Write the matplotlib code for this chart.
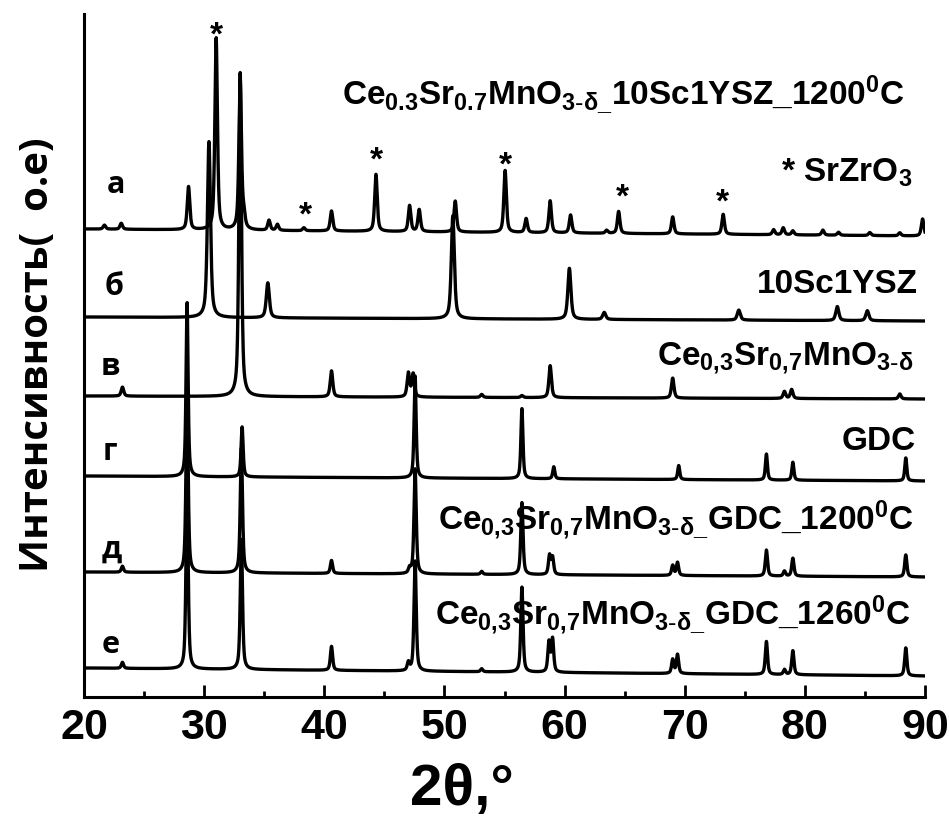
import numpy as np
import matplotlib
matplotlib.use("Agg")
import matplotlib.pyplot as plt
from matplotlib import font_manager

plt.rcParams['mathtext.default'] = 'regular'

# narrow bold font if there is one, otherwise plain sans at a smaller size
installed = {f.name for f in font_manager.fontManager.ttflist}
if 'Liberation Sans Narrow' in installed:
    NARROW, LABEL_FS, TICK_FS = ['Liberation Sans Narrow', 'DejaVu Sans'], 29, 36
else:
    NARROW, LABEL_FS, TICK_FS = ['Liberation Sans', 'DejaVu Sans'], 24, 31

# ---------------- data (peak positions, 2theta / peak heights, a.u.) ----------------
# a: Ce0.3Sr0.7MnO3-d + 10Sc1YSZ, 1200C
pos_a = [21.7, 23.1, 28.7, 31.0, 33.0, 33.3, 35.4, 36.1, 38.3, 40.6, 44.3, 47.1, 47.9,
         50.9, 55.05, 56.8, 58.8, 60.5, 63.5, 64.5, 69.0, 73.2, 77.4, 78.2, 79.0,
         81.5, 82.8, 85.4, 87.9, 89.8]
amp_a = [4, 6, 43, 192, 150, 12, 10, 6, 3, 20, 57, 26, 22,
         31, 62, 14, 32, 18, 3, 22, 17, 20, 5, 7, 4,
         5, 3, 3, 3, 17]
base_a = [468, 461]

# б: 10Sc1YSZ
pos_b = [30.4, 35.3, 50.7, 60.4, 63.3, 74.5, 82.7, 85.2]
amp_b = [176, 35, 103, 51, 7, 10, 14, 10]
base_b = [380, 376]

# в: Ce0.3Sr0.7MnO3-d
pos_v = [23.2, 33.0, 40.6, 47.0, 47.4, 53.1, 56.45, 58.8, 69.0, 78.3, 78.9, 87.9]
amp_v = [9, 324, 26, 24, 23, 3, 2, 32, 20, 7, 9, 5]
base_v = [301, 298]

# г: GDC
pos_g = [28.58, 33.16, 47.56, 56.45, 59.1, 69.5, 76.8, 79.0, 88.4]
amp_g = [174, 50, 102, 70, 12, 14, 26, 18, 23]
base_g = [221, 216]

# д: CSM-GDC, 1200C
pos_d = [23.2, 28.58, 33.1, 40.6, 47.1, 47.56, 53.1, 56.45, 58.75, 59.0, 69.0, 69.4,
         76.8, 78.3, 79.0, 88.4]
amp_d = [6, 175, 125, 13, 5, 105, 3, 72, 19, 17, 10, 13, 26, 5, 18, 22]
base_d = [125, 120]

# е: CSM-GDC, 1260C
pos_e = [23.2, 28.58, 33.1, 40.6, 47.0, 47.56, 53.1, 56.45, 58.7, 59.0, 69.0, 69.4,
         76.8, 78.3, 79.0, 88.4]
amp_e = [6, 180, 130, 24, 8, 110, 3, 85, 30, 33, 14, 19, 33, 5, 24, 28]
base_e = [29, 21]

fwhm = {'a': 0.25, 'b': 0.3, 'v': 0.25, 'g': 0.2, 'd': 0.22, 'e': 0.22}

star_x = [30.99, 38.4, 44.31, 55.05, 64.8, 73.12]
star_y = [653, 473, 528, 523, 491, 486]

letters = ['а', 'б', 'в', 'г', 'д', 'е']
letter_x = [22.66, 22.5, 22.2, 22.2, 22.33, 22.2]
letter_y = [505, 403, 323, 238, 140, 45]

labels = [r'Ce$_{0.3}$Sr$_{0.7}$MnO$_{3\text{-}δ\_}$10Sc1YSZ_1200$^{0}$C',
          r'* SrZrO$_{3}$',
          '10Sc1YSZ',
          r'Ce$_{0{,}3}$Sr$_{0{,}7}$MnO$_{3\text{-}δ}$',
          'GDC',
          r'Ce$_{0{,}3}$Sr$_{0{,}7}$MnO$_{3\text{-}δ\_}$GDC_1200$^{0}$C',
          r'Ce$_{0{,}3}$Sr$_{0{,}7}$MnO$_{3\text{-}δ\_}$GDC_1260$^{0}$C']
label_x = [88.36, 88.94, 89.44, 89.03, 89.19, 89.03, 88.78]
label_y = [593, 516, 405, 333, 248, 168, 73]

# ---------------- build patterns ----------------
x = np.linspace(20, 90, 14001)


def pattern(pos, amp, w, base):
    y = np.interp(x, [20, 90], base)
    for p, h in zip(pos, amp):
        u = (x - p) / (w / 2)
        y = y + h * (0.6 / (1 + u ** 2) + 0.4 * np.exp(-np.log(2) * u ** 2))
    return y


traces = [pattern(pos_a, amp_a, fwhm['a'], base_a),
          pattern(pos_b, amp_b, fwhm['b'], base_b),
          pattern(pos_v, amp_v, fwhm['v'], base_v),
          pattern(pos_g, amp_g, fwhm['g'], base_g),
          pattern(pos_d, amp_d, fwhm['d'], base_d),
          pattern(pos_e, amp_e, fwhm['e'], base_e)]

# ---------------- plot ----------------
fig = plt.figure(figsize=(9.49, 8.28), dpi=100)
ax = fig.add_axes([84 / 949, 1 - 698 / 828, 841 / 949, 683 / 828])

for y in traces:
    ax.plot(x, y, color='black', lw=2.4, solid_joinstyle='round')

ax.set_xlim(20, 90)
ax.set_ylim(0, 683)
ax.spines['top'].set_visible(False)
ax.spines['right'].set_visible(False)
ax.spines['left'].set_linewidth(2.2)
ax.spines['bottom'].set_linewidth(2.2)
ax.set_yticks([])
ax.set_xticks(range(20, 91, 10))
ax.set_xticks(range(25, 90, 10), minor=True)
ax.tick_params(axis='x', which='major', direction='in', length=9, width=2, pad=7)
ax.tick_params(axis='x', which='minor', direction='in', length=4, width=2)
for t in ax.get_xticklabels():
    t.set_family(NARROW)
    t.set_fontweight('bold')
    t.set_fontsize(TICK_FS)

for sx, sy in zip(star_x, star_y):
    ax.text(sx, sy, '*', ha='center', va='baseline', fontsize=24,
            fontweight='bold', family=NARROW)

for lt, lx, ly in zip(letters, letter_x, letter_y):
    ax.text(lx, ly, lt, ha='center', va='baseline', fontsize=22,
            fontweight='bold', family=['Open Sans', 'DejaVu Sans'])

for lt, lx, ly in zip(labels, label_x, label_y):
    ax.text(lx, ly, lt, ha='right', va='baseline', fontsize=LABEL_FS,
            fontweight='bold', family=NARROW)

fig.text(38 / 949, 1 - 355 / 828, 'Интенсивность(  о.е)', rotation=90,
         ha='center', va='center', fontsize=29, fontweight='bold',
         family=['Open Sans', 'DejaVu Sans'])
fig.text(462 / 949, 1 - 790 / 828, '2θ,°', ha='center', va='center',
         fontsize=42, fontweight='bold', family=['Liberation Sans', 'DejaVu Sans'])

fig.savefig('out.png', dpi=100)
